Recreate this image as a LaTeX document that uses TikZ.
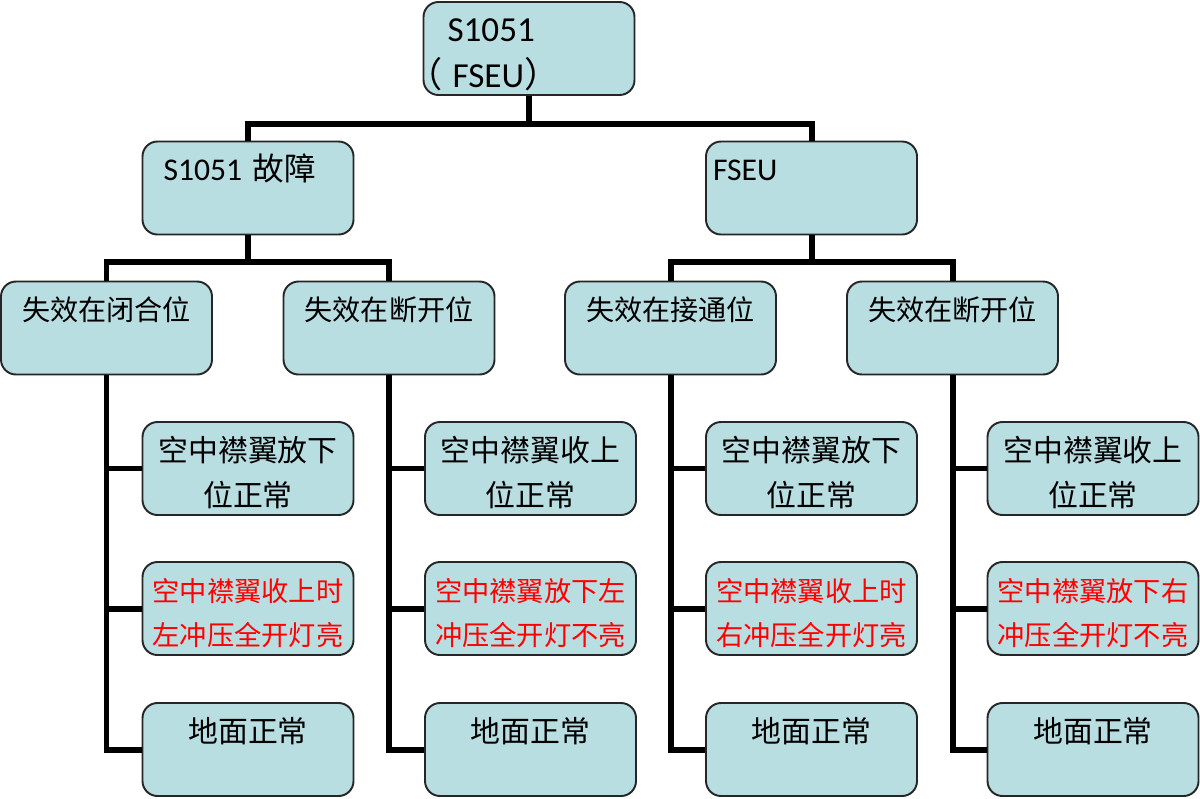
\documentclass[tikz,border=0pt]{standalone}
\usepackage{fontspec}
\setmainfont{Carlito}
\newfontfamily\cjk{Noto Sans CJK SC}
\usetikzlibrary{positioning}
\definecolor{boxc}{RGB}{185,222,226}
\tikzset{box/.style={draw=black!85, line width=1.1pt, rounded corners=0.3cm, fill=boxc, text width=3.94cm, inner xsep=0.14cm, inner ysep=0pt, text height=0.78cm, text depth=1.08cm, align=center, font=\cjk\fontsize{17}{26}\selectfont}}
\tikzset{head/.style={box, align=left, font=\fontsize{18}{26}\selectfont}}
\tikzset{mid/.style={box, font=\cjk\fontsize{16}{25}\selectfont}}
\tikzset{warn/.style={text=red, font=\cjk\fontsize{15.5}{25.5}\selectfont}}
\tikzset{lnk/.style={line width=3.4pt}}

\begin{document}
\begin{tikzpicture}[on grid]
        \useasboundingbox (0,0) rectangle (24,-15.96);

        \node[head, font=\fontsize{20}{26.5}\selectfont] (top) at (10.58,-0.97) {\hspace*{0.34cm}S1051\\\hspace*{-0.46cm}{\cjk （}\hspace{0.2cm}FSEU{\cjk ）}};
        \node[head, below left=2.79 and 5.62 of top] (sf) {\hspace*{0.28cm}S1051 {\cjk 故障}};
        \node[head, below right=2.79 and 5.65 of top] (fs) {FSEU};

        \node[mid, below left=2.8 and 2.83 of sf] (sc) {失效在闭合位};
        \node[mid, below right=2.8 and 2.82 of sf] (so) {失效在断开位};
        \node[mid, below left=2.8 and 2.82 of fs] (fc) {失效在接通位};
        \node[mid, below right=2.8 and 2.82 of fs] (fo) {失效在断开位};

        \node[box, below right=2.81 and 2.83 of sc] (sc1) {空中襟翼放下\\位正常};
        \node[box, warn, below=2.8 of sc1] (sc2) {空中襟翼收上时\\左冲压全开灯亮};
        \node[box, below=2.82 of sc2] (sc3) {地面正常};

        \node[box, below right=2.81 and 2.83 of so] (so1) {空中襟翼收上\\位正常};
        \node[box, warn, below=2.8 of so1] (so2) {空中襟翼放下左\\冲压全开灯不亮};
        \node[box, below=2.82 of so2] (so3) {地面正常};

        \node[box, below right=2.81 and 2.82 of fc] (fc1) {空中襟翼放下\\位正常};
        \node[box, warn, below=2.8 of fc1] (fc2) {空中襟翼收上时\\右冲压全开灯亮};
        \node[box, below=2.82 of fc2] (fc3) {地面正常};

        \node[box, below right=2.81 and 2.81 of fo] (fo1) {空中襟翼收上\\位正常};
        \node[box, warn, below=2.8 of fo1] (fo2) {空中襟翼放下右\\冲压全开灯不亮};
        \node[box, below=2.82 of fo2] (fo3) {地面正常};

        \draw[lnk] (top.south) -- ++(0,-0.56) -| (sf.north);
        \draw[lnk] (top.south) -- ++(0,-0.56) -| (fs.north);

        \draw[lnk] (sf.south) -- ++(0,-0.54) -| (sc.north);
        \draw[lnk] (sf.south) -- ++(0,-0.54) -| (so.north);
        \draw[lnk] (fs.south) -- ++(0,-0.54) -| (fc.north);
        \draw[lnk] (fs.south) -- ++(0,-0.54) -| (fo.north);

        \draw[lnk] (sc.south) |- (sc3.west);
        \draw[lnk] (sc1.west) -- (sc1.west -| sc.south);
        \draw[lnk] (sc2.west) -- (sc2.west -| sc.south);

        \draw[lnk] (so.south) |- (so3.west);
        \draw[lnk] (so1.west) -- (so1.west -| so.south);
        \draw[lnk] (so2.west) -- (so2.west -| so.south);

        \draw[lnk] (fc.south) |- (fc3.west);
        \draw[lnk] (fc1.west) -- (fc1.west -| fc.south);
        \draw[lnk] (fc2.west) -- (fc2.west -| fc.south);

        \draw[lnk] (fo.south) |- (fo3.west);
        \draw[lnk] (fo1.west) -- (fo1.west -| fo.south);
        \draw[lnk] (fo2.west) -- (fo2.west -| fo.south);
    \end{tikzpicture}
\end{document}
